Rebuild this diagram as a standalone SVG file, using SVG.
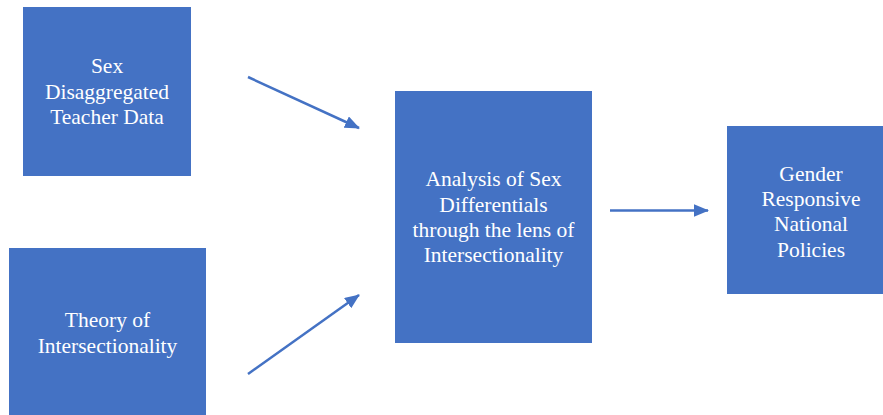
<svg xmlns="http://www.w3.org/2000/svg" width="883" height="415" viewBox="0 0 883 415">
<style>
.box{fill:#4472C4}
.t{font-family:"Liberation Serif","Times New Roman",serif;font-size:21.5px;fill:#FFFFFF;text-anchor:middle}
.c{stroke:#4472C4;stroke-width:2.5;fill:none}
</style>
<defs>
<marker id="ah" markerWidth="6" markerHeight="5" refX="5.6" refY="2.5" orient="auto" markerUnits="strokeWidth">
<path d="M0,0 L6,2.5 L0,5 Z" fill="#4472C4"/>
</marker>
</defs>
<rect width="883" height="415" fill="#FFFFFF"/>
<g id="node-sex-data">
<rect class="box" x="23" y="7" width="168" height="169"/>
<text class="t" x="107" y="73">Sex</text>
<text class="t" x="107" y="99">Disaggregated</text>
<text class="t" x="107" y="124">Teacher Data</text>
</g>
<g id="node-theory">
<rect class="box" x="9" y="248" width="197" height="170"/>
<text class="t" x="107.5" y="327">Theory of</text>
<text class="t" x="107.5" y="352.5">Intersectionality</text>
</g>
<g id="node-analysis">
<rect class="box" x="395" y="91" width="197" height="252"/>
<text class="t" x="493.5" y="186">Analysis of Sex</text>
<text class="t" x="493.5" y="211.5">Differentials</text>
<text class="t" x="493.5" y="237">through the lens of</text>
<text class="t" x="493.5" y="262">Intersectionality</text>
</g>
<g id="node-policies">
<rect class="box" x="727" y="126" width="168" height="168"/>
<text class="t" x="811" y="180.5">Gender</text>
<text class="t" x="811" y="205.5">Responsive</text>
<text class="t" x="811" y="231">National</text>
<text class="t" x="811" y="256.5">Policies</text>
</g>
<g id="connectors">
<line class="c" x1="248" y1="77" x2="359" y2="128" marker-end="url(#ah)"/>
<line class="c" x1="248" y1="374" x2="359" y2="295" marker-end="url(#ah)"/>
<line class="c" x1="610" y1="210.5" x2="708" y2="210.5" marker-end="url(#ah)"/>
</g>
</svg>
